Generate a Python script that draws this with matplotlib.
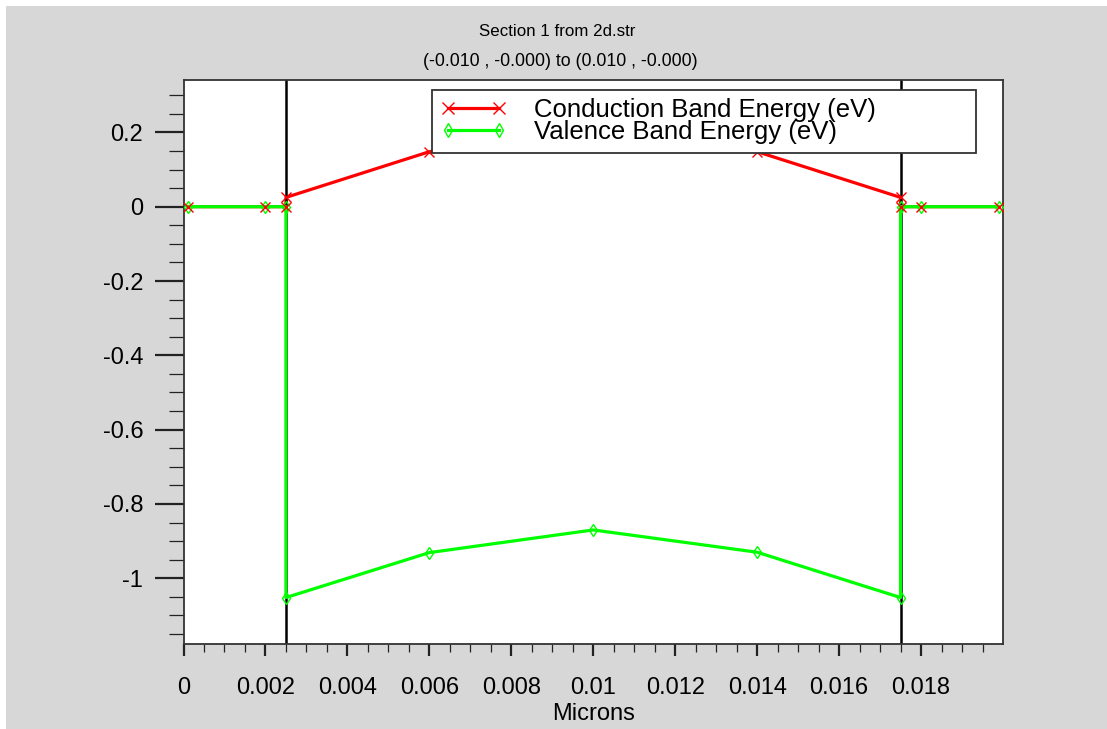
import matplotlib.pyplot as plt
from matplotlib.lines import Line2D
from matplotlib.patches import Rectangle
from matplotlib.ticker import FixedLocator

plt.rcParams['font.family'] = ['Liberation Sans', 'DejaVu Sans']

# band edges along the cut line (x in microns, energy in eV)
x_pos = [0.0001, 0.002, 0.0025, 0.0025, 0.006, 0.01, 0.014, 0.0175, 0.0175, 0.018, 0.0199]
e_cond = [0, 0, 0, 0.025, 0.148, 0.21, 0.148, 0.025, 0, 0, 0]
e_val = [0, 0, 0, -1.052, -0.931, -0.87, -0.93, -1.052, 0, 0, 0]
boundaries = [0.0025, 0.0175]

x_ticks = [0, 0.002, 0.004, 0.006, 0.008, 0.01, 0.012, 0.014, 0.016, 0.018]
x_tick_labels = ['0', '0.002', '0.004', '0.006', '0.008', '0.01', '0.012', '0.014', '0.016', '0.018']
y_ticks = [-1, -0.8, -0.6, -0.4, -0.2, 0, 0.2]
y_tick_labels = ['-1', '-0.8', '-0.6', '-0.4', '-0.2', '0', '0.2']

red = '#ff0000'
green = '#00ff00'
gray = '#d7d7d7'

fig = plt.figure(figsize=(11.07, 7.29), dpi=100)
fig.patch.set_facecolor('white')
fig.patches.append(Rectangle((6 / 1107, 0), 1, 1 - 6 / 729, transform=fig.transFigure,
                             facecolor=gray, edgecolor='none', zorder=-10))

ax = fig.add_axes([183.5 / 1107, 1 - 644 / 729, (1003 - 183.5) / 1107, (644 - 80) / 729])
ax.set_facecolor('white')

ax.plot(x_pos, e_cond, color=red, lw=2.3, zorder=2)
for b in boundaries:
    ax.axvline(b, color='black', lw=1.8, zorder=2.5)
ax.plot(x_pos, e_val, color=green, lw=2.3, zorder=3,
        marker='d', ms=6, mfc='none', mec=green, mew=1)
ax.plot(x_pos, e_cond, ls='none', marker='x', ms=7, mec=red, mew=1, zorder=4)

ax.set_xlim(0, 0.02)
ax.set_ylim(-1.177, 0.341)

ax.xaxis.set_major_locator(FixedLocator(x_ticks))
ax.set_xticklabels(x_tick_labels)
ax.xaxis.set_minor_locator(FixedLocator([i * 0.0005 for i in range(40) if i % 4]))
ax.yaxis.set_major_locator(FixedLocator(y_ticks))
ax.set_yticklabels(y_tick_labels)
ax.yaxis.set_minor_locator(FixedLocator([-1.15 + i * 0.05 for i in range(30) if (i - 3) % 4]))

ax.tick_params(axis='both', which='both', direction='out', colors='#222222', labelcolor='black',
               labelsize=17)
ax.tick_params(axis='x', which='major', length=8.5, width=1.6, pad=15)
ax.tick_params(axis='x', which='minor', length=5.5, width=0.9)
ax.tick_params(axis='y', which='major', length=21, width=1.6, pad=8)
ax.tick_params(axis='y', which='minor', length=11, width=0.9)

for s in ax.spines.values():
    s.set_color('#333333')
    s.set_linewidth(1.3)

ax.set_xlabel('Microns', fontsize=17, labelpad=3)

fig.text(0.503, 1 - 32 / 729, 'Section 1 from 2d.str', ha='center', va='center', fontsize=12.2)
fig.text(0.506, 1 - 61 / 729, '(-0.010 , -0.000) to (0.010 , -0.000)', ha='center', va='center',
         fontsize=12.8)

handles = [Line2D([], [], color=red, lw=2.3, marker='x', ms=8, mew=1),
           Line2D([], [], color=green, lw=2.3, marker='d', ms=7, mfc='none', mew=1)]
leg = ax.legend(handles, ['Conduction Band Energy (eV)', 'Valence Band Energy (eV)'],
                loc='upper left', bbox_to_anchor=(0.3032, 0.982, 0.664, 0), mode='expand',
                borderaxespad=0, fontsize=18.5, handlelength=2.6, handletextpad=1.05,
                labelspacing=-0.08, borderpad=0.32, fancybox=False, framealpha=1,
                edgecolor='#333333', numpoints=2)
leg.get_frame().set_linewidth(1.3)
leg.set_zorder(5)

fig.savefig('out.png', dpi=100)
